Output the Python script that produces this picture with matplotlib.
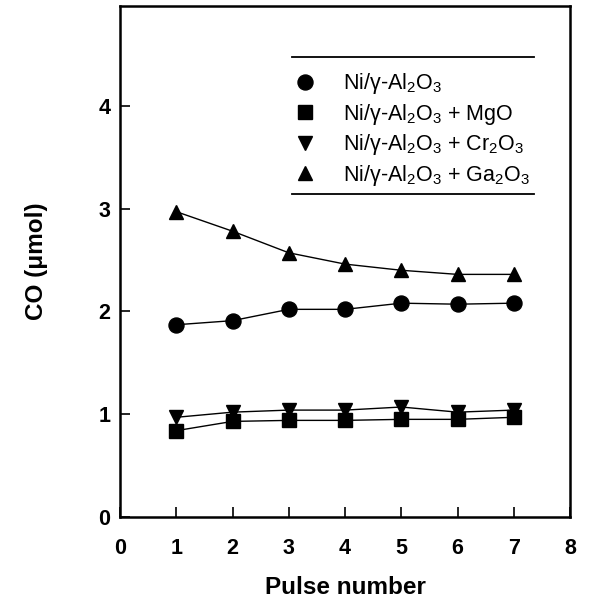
import matplotlib
matplotlib.use("Agg")
import matplotlib.pyplot as plt
from matplotlib.lines import Line2D

plt.rcParams['font.family'] = ['Liberation Sans', 'DejaVu Sans']
plt.rcParams['mathtext.fontset'] = 'custom'
plt.rcParams['mathtext.rm'] = 'Liberation Sans'
plt.rcParams['mathtext.it'] = 'Liberation Sans:italic'
plt.rcParams['mathtext.bf'] = 'Liberation Sans:bold'

pulse = [1, 2, 3, 4, 5, 6, 7]
co_ni = [1.87, 1.91, 2.02, 2.02, 2.08, 2.07, 2.08]
co_mgo = [0.84, 0.93, 0.94, 0.94, 0.95, 0.95, 0.97]
co_cr = [0.97, 1.02, 1.04, 1.04, 1.07, 1.02, 1.04]
co_ga = [2.97, 2.78, 2.57, 2.46, 2.40, 2.36, 2.36]

labels = [
    'Ni/γ-Al$_2$O$_3$',
    'Ni/γ-Al$_2$O$_3$ + MgO',
    'Ni/γ-Al$_2$O$_3$ + Cr$_2$O$_3$',
    'Ni/γ-Al$_2$O$_3$ + Ga$_2$O$_3$',
]
x_ticks = [0, 1, 2, 3, 4, 5, 6, 7, 8]
y_ticks = [0, 1, 2, 3, 4]

fig = plt.figure(figsize=(5.93, 6.04), dpi=100)
ax = fig.add_axes([0.2024, 0.144, 0.7589, 0.846])

series = [
    (co_ni, 'o', 10.8),
    (co_mgo, 's', 9.5),
    (co_cr, 'v', 10.5),
    (co_ga, '^', 10.5),
]
handles = []
for vals, mk, ms in series:
    ax.plot(pulse, vals, color='black', lw=1.0, marker=mk, ms=ms,
            markeredgecolor='black', markerfacecolor='black')
    handles.append(Line2D([], [], ls='none', marker=mk, ms=ms, color='black'))

ax.set_xlim(0, 8)
ax.set_ylim(0, 4.97)
ax.set_xticks(x_ticks)
ax.set_yticks(y_ticks)
ax.set_xticklabels([str(v) for v in x_ticks], fontweight='bold', fontsize=15.5)
ax.set_yticklabels([str(v) for v in y_ticks], fontweight='bold', fontsize=15.5)
ax.tick_params(direction='in', length=7, width=1.2)
ax.tick_params(axis='y', pad=7)
ax.tick_params(axis='x', pad=15)
for sp in ax.spines.values():
    sp.set_linewidth(1.8)

ax.set_xlabel('Pulse number', fontweight='bold', fontsize=17.5, labelpad=12)
ax.set_ylabel('CO (μmol)', fontweight='bold', fontsize=17.5, labelpad=36)

leg = ax.legend(handles, labels, loc='upper left', bbox_to_anchor=(0.332, 0.91),
                frameon=False, fontsize=15.5, handletextpad=1.0,
                labelspacing=0.25, handlelength=1.5)

# rules above and below the legend entries
ax.add_line(Line2D([0.382, 0.92], [0.900, 0.900], transform=ax.transAxes,
                   color='black', lw=1.3, clip_on=False))
ax.add_line(Line2D([0.382, 0.92], [0.633, 0.633], transform=ax.transAxes,
                   color='black', lw=1.3, clip_on=False))

fig.savefig('out.png', dpi=100)
